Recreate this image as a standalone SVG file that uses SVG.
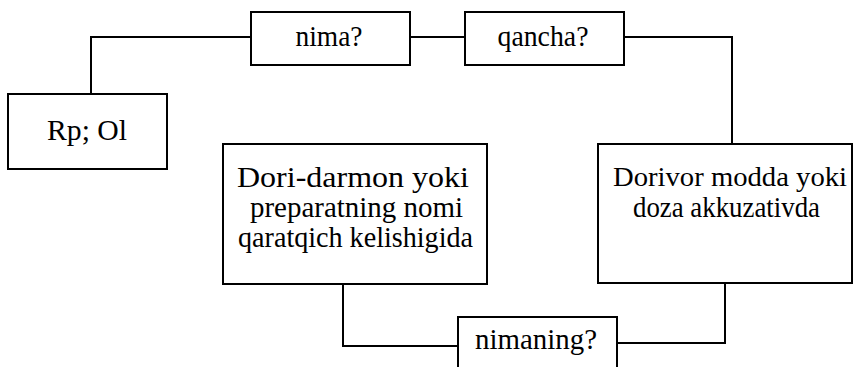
<svg xmlns="http://www.w3.org/2000/svg" width="853" height="367" viewBox="0 0 853 367">
<style>
.box{fill:#fff;stroke:#000;stroke-width:2}
.ln{fill:none;stroke:#000;stroke-width:2}
.t{font-family:"Liberation Serif","Times New Roman",Times,serif;font-size:30px;fill:#000;text-anchor:middle}
.s{font-size:28px}
</style>
<rect width="853" height="367" fill="#fff"/>
<g id="connectors">
<polyline class="ln" points="251,37 91,37 91,94"/>
<line class="ln" x1="410" y1="37" x2="465" y2="37"/>
<polyline class="ln" points="624,37 732,37 732,144"/>
<polyline class="ln" points="343,284 343,346 458,346"/>
<polyline class="ln" points="617,343 725,343 725,283"/>
</g>
<g id="node-rp">
<rect class="box" x="8" y="94" width="159" height="75"/>
<text class="t" x="87" y="140" textLength="80" lengthAdjust="spacingAndGlyphs">Rp; Ol</text>
</g>
<g id="node-nima">
<rect class="box" x="251" y="12" width="159" height="53"/>
<text class="t" x="329" y="46" textLength="67" lengthAdjust="spacingAndGlyphs">nima?</text>
</g>
<g id="node-qancha">
<rect class="box" x="465" y="12" width="159" height="53"/>
<text class="t" x="543" y="46" textLength="91" lengthAdjust="spacingAndGlyphs">qancha?</text>
</g>
<g id="node-dori">
<rect class="box" x="223" y="144" width="264" height="140"/>
<text class="t" x="353" y="187" textLength="232" lengthAdjust="spacingAndGlyphs">Dori-darmon yoki</text>
<text class="t" x="356.5" y="217" textLength="213" lengthAdjust="spacingAndGlyphs">preparatning nomi</text>
<text class="t" x="355.5" y="247" textLength="235" lengthAdjust="spacingAndGlyphs">qaratqich kelishigida</text>
</g>
<g id="node-dorivor">
<rect class="box" x="598" y="144" width="254" height="139"/>
<text class="t s" x="730" y="186" textLength="234" lengthAdjust="spacingAndGlyphs">Dorivor modda yoki</text>
<text class="t" x="726.5" y="217" textLength="187" lengthAdjust="spacingAndGlyphs">doza akkuzativda</text>
</g>
<g id="node-nimaning">
<rect class="box" x="458" y="317" width="159" height="60"/>
<text class="t" x="536" y="349" textLength="122" lengthAdjust="spacingAndGlyphs">nimaning?</text>
</g>
</svg>
